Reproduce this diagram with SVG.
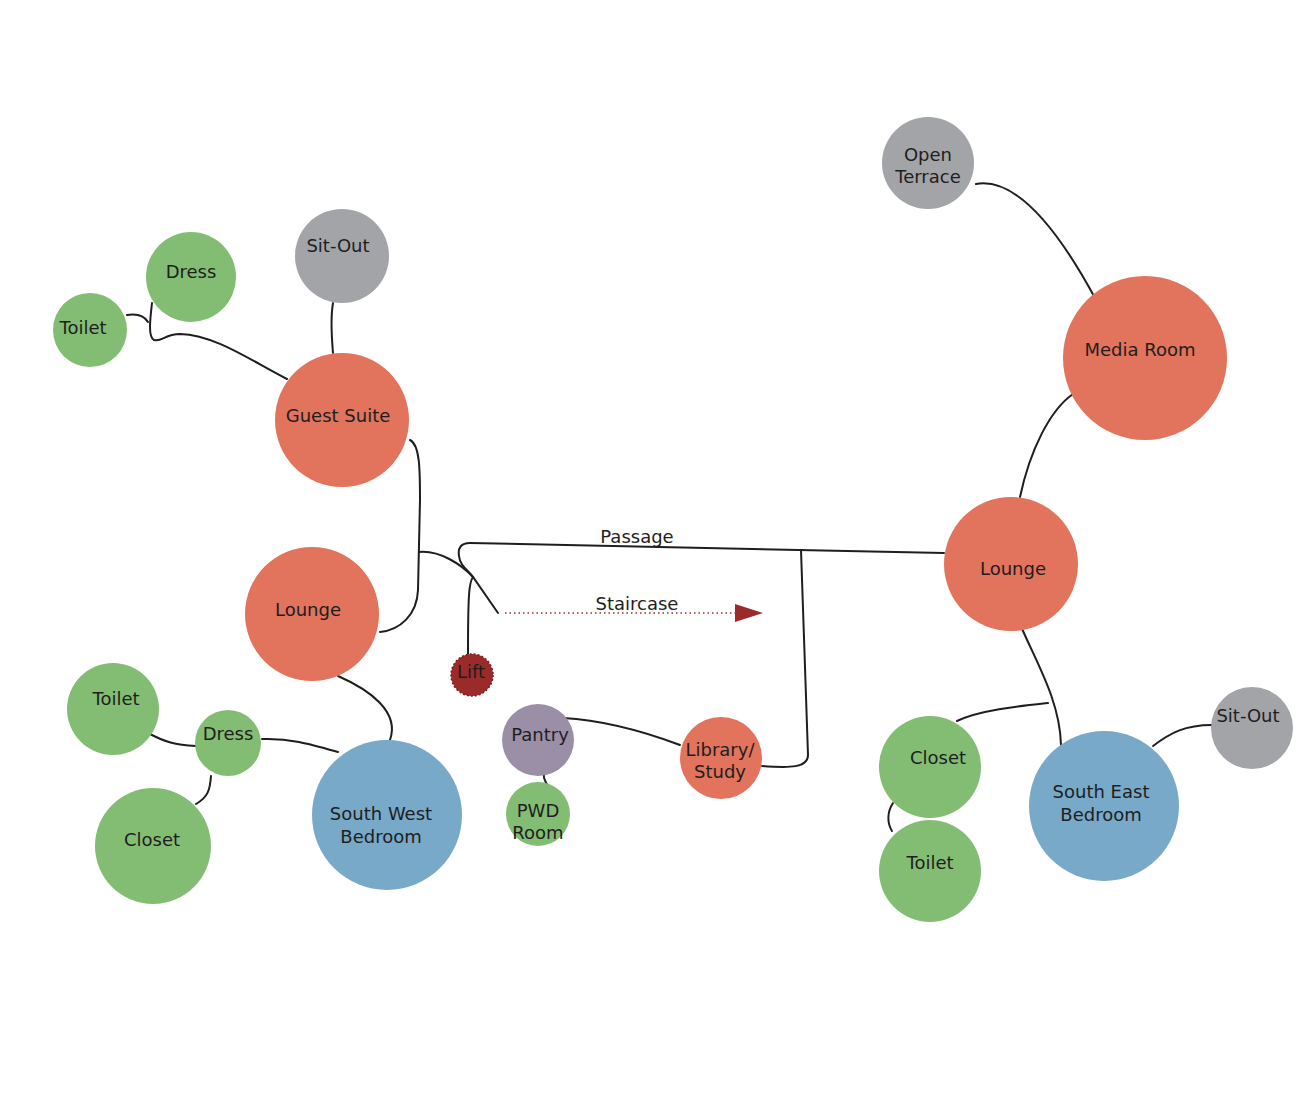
<svg xmlns="http://www.w3.org/2000/svg" width="1315" height="1108" viewBox="0 0 1315 1108">
<defs>
<style>
.orange{fill:#e2735c}
.green{fill:#83bd73}
.gray{fill:#a3a4a8}
.blue{fill:#78a9c9}
.purple{fill:#9a8fa6}
.lift{fill:#9b2b2b;stroke:#7a1e1e;stroke-width:1.5;stroke-dasharray:2 2}
text{font-family:"DejaVu Sans","Liberation Sans",sans-serif;font-size:18px;fill:#1e1e1e;text-anchor:middle;dominant-baseline:central}
.conn path{fill:none;stroke:#1e1e1e;stroke-width:2;stroke-linecap:round}
.conn .stair{stroke:#9b2b2b;stroke-width:1.5;stroke-dasharray:1.5 3;stroke-linecap:butt}
</style>
<marker id="arr" viewBox="0 0 28 18" refX="0" refY="9" markerWidth="28" markerHeight="18" markerUnits="userSpaceOnUse" orient="auto">
<path d="M0,0 L28,9 L0,18 Z" fill="#9b2b2b"/>
</marker>
</defs>
<rect width="1315" height="1108" fill="#ffffff"/>

<g id="connectors" class="conn">
<path d="M976,184 C1010,178 1050,215 1095,298"/>
<path d="M1073,394 C1050,410 1030,450 1020,497"/>
<path d="M1020,624 C1035,660 1060,700 1061,745"/>
<path d="M957,721 C980,710 1020,706 1048,703"/>
<path d="M893,803 C887,812 887,823 892,831"/>
<path d="M1153,746 C1170,733 1185,725 1212,725"/>
<path d="M944,553 L470,543 Q457,543 459,556 C460,566 468,570 473,577 C469,582 468,595 468,654"/>
<path d="M419,552 C440,550 462,565 473,577 L498,613"/>
<path d="M410,440 C420,445 420,470 420,500 L418,590 C417,615 400,630 380,632"/>
<path d="M801,550 L808,755 C808,768 790,768 762,766"/>
<path d="M563,718 C600,720 640,730 680,745"/>
<path d="M545,767 C542,775 544,782 550,788"/>
<path d="M338,676 C370,690 400,712 390,740"/>
<path d="M338,752 C310,744 290,738 262,739"/>
<path d="M196,746 C175,745 165,742 148,733"/>
<path d="M211,776 C210,790 208,797 196,804"/>
<path d="M333,303 C330,320 332,340 333,353"/>
<path d="M287,379 C250,360 215,335 180,334 C165,334 162,342 154,340 C148,337 150,320 152,303"/>
<path d="M127,315 C140,313 145,317 148,322"/>
<path class="stair" d="M505,613 L735,613" marker-end="url(#arr)"/>
</g>
<text x="637" y="536">Passage</text>
<text x="637" y="603">Staircase</text>

<g id="open-terrace"><circle class="gray" cx="928" cy="163" r="46"/><text x="928" y="154">Open</text><text x="928" y="176">Terrace</text></g>
<g id="media-room"><circle class="orange" cx="1145" cy="358" r="82"/><text x="1140" y="349">Media Room</text></g>
<g id="lounge-east"><circle class="orange" cx="1011" cy="564" r="67"/><text x="1013" y="568">Lounge</text></g>
<g id="sitout-west"><circle class="gray" cx="342" cy="256" r="47"/><text x="338" y="245">Sit-Out</text></g>
<g id="dress-guest"><circle class="green" cx="191" cy="277" r="45"/><text x="191" y="271">Dress</text></g>
<g id="toilet-guest"><circle class="green" cx="90" cy="330" r="37"/><text x="83" y="327">Toilet</text></g>
<g id="guest-suite"><circle class="orange" cx="342" cy="420" r="67"/><text x="338" y="415">Guest Suite</text></g>
<g id="lounge-west"><circle class="orange" cx="312" cy="614" r="67"/><text x="308" y="609">Lounge</text></g>
<g id="lift"><circle class="lift" cx="472" cy="675" r="21"/><text x="471" y="671">Lift</text></g>
<g id="pantry"><circle class="purple" cx="538" cy="740" r="36"/><text x="540" y="734">Pantry</text></g>
<g id="pwd-room"><circle class="green" cx="538" cy="814" r="32"/><text x="538" y="810">PWD</text><text x="538" y="832">Room</text></g>
<g id="library"><circle class="orange" cx="721" cy="758" r="41"/><text x="720" y="749">Library/</text><text x="720" y="771">Study</text></g>
<g id="toilet-sw"><circle class="green" cx="113" cy="709" r="46"/><text x="116" y="698">Toilet</text></g>
<g id="dress-sw"><circle class="green" cx="228" cy="743" r="33"/><text x="228" y="733">Dress</text></g>
<g id="closet-sw"><circle class="green" cx="153" cy="846" r="58"/><text x="152" y="839">Closet</text></g>
<g id="sw-bedroom"><circle class="blue" cx="387" cy="815" r="75"/><text x="381" y="813">South West</text><text x="381" y="836">Bedroom</text></g>
<g id="closet-se"><circle class="green" cx="930" cy="767" r="51"/><text x="938" y="757">Closet</text></g>
<g id="toilet-se"><circle class="green" cx="930" cy="871" r="51"/><text x="930" y="862">Toilet</text></g>
<g id="se-bedroom"><circle class="blue" cx="1104" cy="806" r="75"/><text x="1101" y="791">South East</text><text x="1101" y="814">Bedroom</text></g>
<g id="sitout-east"><circle class="gray" cx="1252" cy="728" r="41"/><text x="1248" y="715">Sit-Out</text></g>
</svg>
